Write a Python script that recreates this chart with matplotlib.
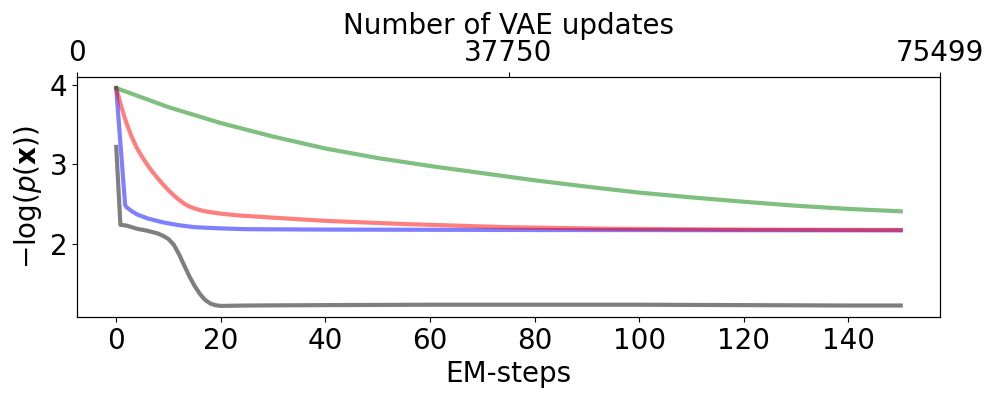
import matplotlib
matplotlib.use('Agg')
import matplotlib.pyplot as plt

# EM-step values
green_steps = [0, 10, 20, 30, 40, 50, 60, 70, 80, 90, 100, 110, 120, 130, 140, 150]
green_vals = [3.96, 3.72, 3.52, 3.35, 3.20, 3.08, 2.98, 2.89, 2.80, 2.72, 2.645, 2.585, 2.53, 2.48, 2.44, 2.41]

red_steps = [0, 1, 2, 3, 4, 5, 6, 7, 8, 9, 10, 11, 12, 13, 14, 15, 16, 17, 18, 20, 23, 30, 40, 55, 75, 95, 120, 150]
red_vals = [3.96, 3.72, 3.51, 3.34, 3.20, 3.09, 2.99, 2.90, 2.82, 2.745, 2.675, 2.61, 2.555, 2.505, 2.47, 2.445,
            2.425, 2.41, 2.40, 2.38, 2.36, 2.33, 2.29, 2.25, 2.21, 2.19, 2.18, 2.175]

blue_steps = [0, 1.7, 2, 3, 4, 6, 9, 12, 15, 20, 25, 40, 80, 150]
blue_vals = [3.96, 2.49, 2.46, 2.41, 2.37, 2.32, 2.27, 2.235, 2.21, 2.195, 2.185, 2.18, 2.175, 2.17]

black_steps = [0, 0.8, 2, 4, 6, 8, 9, 10, 11, 12, 13, 14, 15, 16, 17, 18, 19, 20, 25, 40, 60, 80, 100, 120, 140, 150]
black_vals = [3.22, 2.24, 2.23, 2.19, 2.165, 2.13, 2.10, 2.06, 1.99, 1.87, 1.73, 1.59, 1.47, 1.37, 1.295, 1.25, 1.228,
              1.22, 1.225, 1.23, 1.235, 1.235, 1.235, 1.23, 1.225, 1.225]

vae_ticks = [0, 37750, 75499]

fig = plt.figure(figsize=(10, 4), dpi=100)
ax = fig.add_axes([0.077, 0.208, 0.863, 0.599])

ax.plot(black_steps, black_vals, color='k', alpha=0.5, linewidth=3)
ax.plot(blue_steps, blue_vals, color='b', alpha=0.5, linewidth=3)
ax.plot(red_steps, red_vals, color='r', alpha=0.5, linewidth=3)
ax.plot(green_steps, green_vals, color='g', alpha=0.5, linewidth=3)

ax.set_xlabel('EM-steps', fontsize=20)
ax.set_ylabel(r'$-\log(p(\mathbf{x}))$', fontsize=20)
ax.set_yticks([2, 3, 4])
ax.set_xticks(range(0, 141, 20))
ax.tick_params(labelsize=20)

ax2 = ax.twiny()
ax2.set_xlim(0, 75499)
ax2.set_xticks(vae_ticks)
ax2.set_xticklabels([str(t) for t in vae_ticks])
ax2.tick_params(labelsize=20)
ax2.set_xlabel('Number of VAE updates', fontsize=20)

fig.savefig('out.png', dpi=100)
